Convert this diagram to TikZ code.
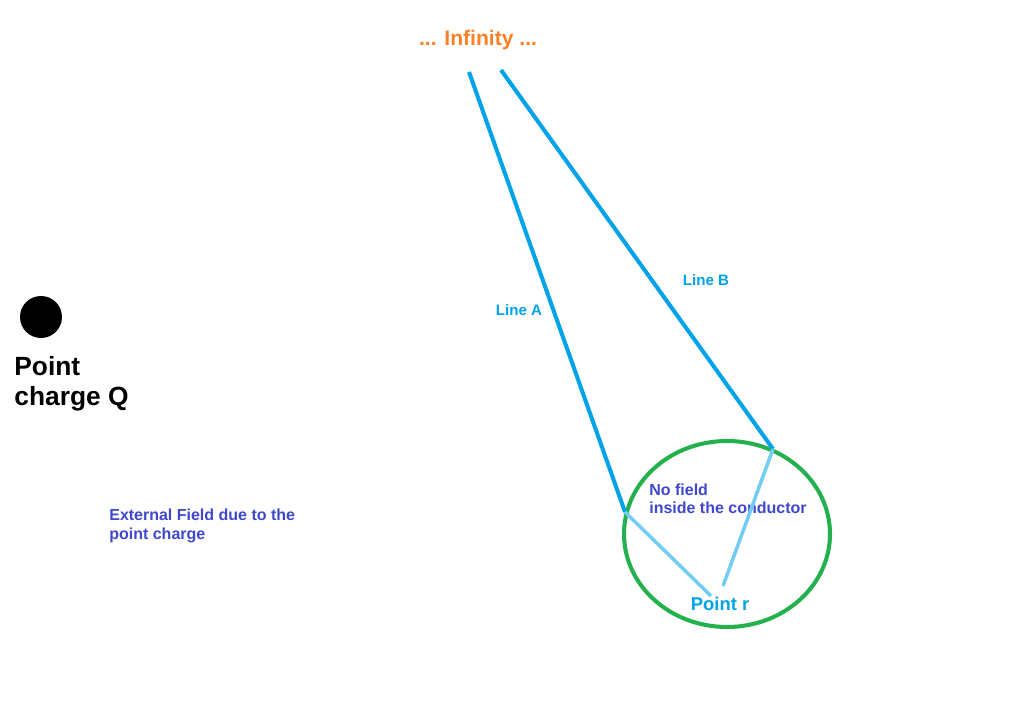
\documentclass[tikz,border=0pt]{standalone}
\usepackage{fontspec}
\setmainfont{Liberation Sans}
\usepackage{tikz}
\definecolor{lineblue}{HTML}{00A2E8}
\definecolor{textblue}{HTML}{3F48CC}
\definecolor{infcolor}{HTML}{FF7F27}
\definecolor{condgreen}{HTML}{22B14C}

\begin{document}
\begin{tikzpicture}[
  x=0.02cm, y=-0.02cm,
  fieldline/.style={lineblue, line width=2.3pt},
  innerline/.style={lineblue!55, line width=2pt},
  note/.style={textblue, font=\bfseries\fontsize{9.1}{10.5}\selectfont, align=left, inner sep=0pt},
  linelabel/.style={lineblue, font=\bfseries\fontsize{8.6}{10}\selectfont, inner sep=0pt}
]
  \useasboundingbox (0,0) rectangle (1027,726);

  % Infinity and the point charge
  \node[infcolor, font=\bfseries\fontsize{12}{14}\selectfont] (inf) at (478,40) {... Infinity ...};
  \fill (41,317) circle (21);
  \node[anchor=north west, inner sep=0pt, align=left, font=\bfseries\fontsize{15}{17}\selectfont] (charge) at (14,356) {Point\\charge Q};
  \node[note, anchor=west] (ext) at (109,526) {External Field due to the\\point charge};

  % Conductor
  \draw[condgreen, line width=2.3pt] (727,534) ellipse (103 and 93);
  \node[note, anchor=west] (nofield) at (649,499) {No field\\inside the conductor};
  \node[lineblue, font=\bfseries\fontsize{10.5}{12}\selectfont] (pointr) at (720,604) {Point r};

  % Paths from infinity
  \coordinate (startA) at (469,72);
  \coordinate (startB) at (501,70);
  \coordinate (hitA) at (625,512);
  \coordinate (hitB) at (773,449);
  \coordinate (endA) at (711,596);
  \coordinate (endB) at (723,586);
  \draw[fieldline] (startA) -- (hitA);
  \draw[fieldline] (startB) -- (hitB);
  \draw[innerline] (hitA) -- (endA);
  \draw[innerline] (hitB) -- (endB);
  \node[linelabel] (labA) at (519,310) {Line A};
  \node[linelabel] (labB) at (706,280) {Line B};
\end{tikzpicture}
\end{document}
